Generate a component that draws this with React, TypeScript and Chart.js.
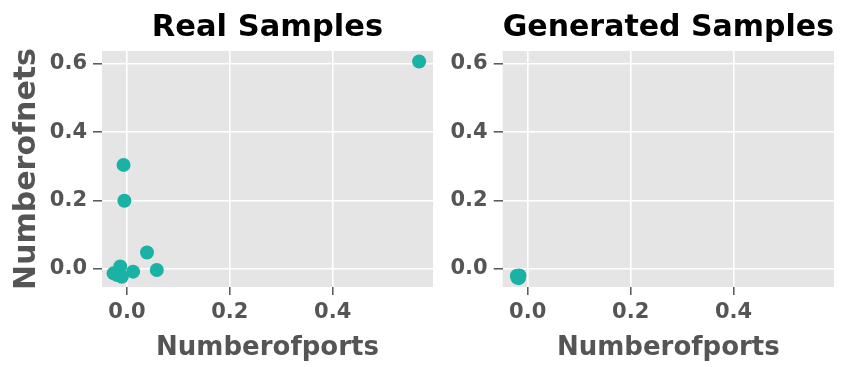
import React, { useEffect, useRef } from 'react';
import { Chart, registerables } from 'chart.js';

Chart.register(...registerables);

// ---- data ----
const realX = [0.568, -0.0066, -0.005, 0.039, 0.058, 0.012, -0.013, -0.019, -0.026, -0.010];
const realY = [0.607, 0.304, 0.199, 0.047, -0.004, -0.009, 0.006, -0.019, -0.014, -0.024];
const genX = [-0.020, -0.016, -0.017, -0.021];
const genY = [-0.027, -0.020, -0.028, -0.021];
const xTicks = [0, 0.2, 0.4];
const yTicks = [0, 0.2, 0.4, 0.6];
const xRange = [-0.0485, 0.595];
const yRange = [-0.054, 0.638];
const xLabel = 'Numberofports';
const yLabel = 'Numberofnets';
const titles = ['Real Samples', 'Generated Samples'];

const FAMILY = "'DejaVu Sans', sans-serif";
const TEAL = '#1AB2A4';
const GREY = '#555555';
const H = 367;

const bgPlugin = {
  id: 'plotBg',
  beforeDraw(chart: any) {
    const { ctx, chartArea: a } = chart;
    ctx.save();
    ctx.fillStyle = '#E5E5E5';
    ctx.fillRect(a.left, a.top, a.right - a.left, a.bottom - a.top);
    ctx.restore();
  },
};

type PanelProps = {
  title: string;
  xs: number[];
  ys: number[];
  showYTitle: boolean;
  left: number;
  width: number;
  yAxisWidth: number;
  padRight: number;
};

function Panel({ title, xs, ys, showYTitle, left, width, yAxisWidth, padRight }: PanelProps) {
  const ref = useRef<HTMLCanvasElement | null>(null);
  useEffect(() => {
    if (!ref.current) return;
    const tickFont = { family: FAMILY, weight: 'bold' as const, size: 21 };
    const chart = new Chart(ref.current, {
      type: 'scatter',
      data: {
        datasets: [
          {
            data: xs.map((x, i) => ({ x, y: ys[i] })),
            backgroundColor: TEAL,
            borderColor: TEAL,
            borderWidth: 0,
            pointRadius: 7,
            pointHoverRadius: 7,
          },
        ],
      },
      options: {
        animation: false,
        responsive: false,
        devicePixelRatio: 1,
        layout: { padding: { left: 0, right: padRight, top: 0, bottom: 0 } },
        plugins: {
          legend: { display: false },
          tooltip: { enabled: false },
          title: {
            display: true,
            text: title,
            color: '#000000',
            fullSize: false,
            font: { family: FAMILY, weight: 'bold', size: 30.5 },
            padding: { top: 9.5, bottom: 4.9 },
          },
        },
        scales: {
          x: {
            type: 'linear',
            min: xRange[0],
            max: xRange[1],
            afterBuildTicks: (s: any) => {
              s.ticks = xTicks.map((v) => ({ value: v }));
            },
            afterFit: (s: any) => {
              s.height = 80;
            },
            grid: { color: '#FFFFFF', lineWidth: 1.6, tickColor: GREY, tickLength: 8, tickWidth: 1.5 },
            border: { display: false },
            ticks: {
              color: GREY,
              font: tickFont,
              padding: 4.5,
              autoSkip: false,
              maxRotation: 0,
              callback: (v: any) => Number(v).toFixed(1),
            },
            title: {
              display: true,
              text: xLabel,
              color: GREY,
              font: { family: FAMILY, weight: 'bold', size: 26 },
              padding: { top: 0, bottom: 3.4 },
            },
          },
          y: {
            type: 'linear',
            min: yRange[0],
            max: yRange[1],
            afterBuildTicks: (s: any) => {
              s.ticks = yTicks.map((v) => ({ value: v }));
            },
            afterFit: (s: any) => {
              s.width = yAxisWidth;
            },
            grid: { color: '#FFFFFF', lineWidth: 1.6, tickColor: GREY, tickLength: 9, tickWidth: 1.5 },
            border: { display: false },
            ticks: {
              color: GREY,
              font: tickFont,
              padding: 6,
              autoSkip: false,
              callback: (v: any) => Number(v).toFixed(1),
            },
            title: {
              display: showYTitle,
              text: yLabel,
              color: GREY,
              font: { family: FAMILY, weight: 'bold', size: 30 },
              padding: { top: 9.6, bottom: 0 },
            },
          },
        },
      },
      plugins: [bgPlugin],
    });
    return () => chart.destroy();
  }, []);
  return (
    <canvas
      ref={ref}
      width={width}
      height={H}
      style={{ position: 'absolute', left, top: 0, width, height: H }}
    />
  );
}

export default function App() {
  return (
    <div style={{ position: 'absolute', left: 0, top: 0, width: 842, height: H, background: '#FFFFFF' }}>
      <Panel title={titles[0]} xs={realX} ys={realY} showYTitle={true} left={0} width={440} yAxisWidth={102} padRight={7} />
      <Panel title={titles[1]} xs={genX} ys={genY} showYTitle={false} left={440} width={402} yAxisWidth={62.7} padRight={8} />
    </div>
  );
}
